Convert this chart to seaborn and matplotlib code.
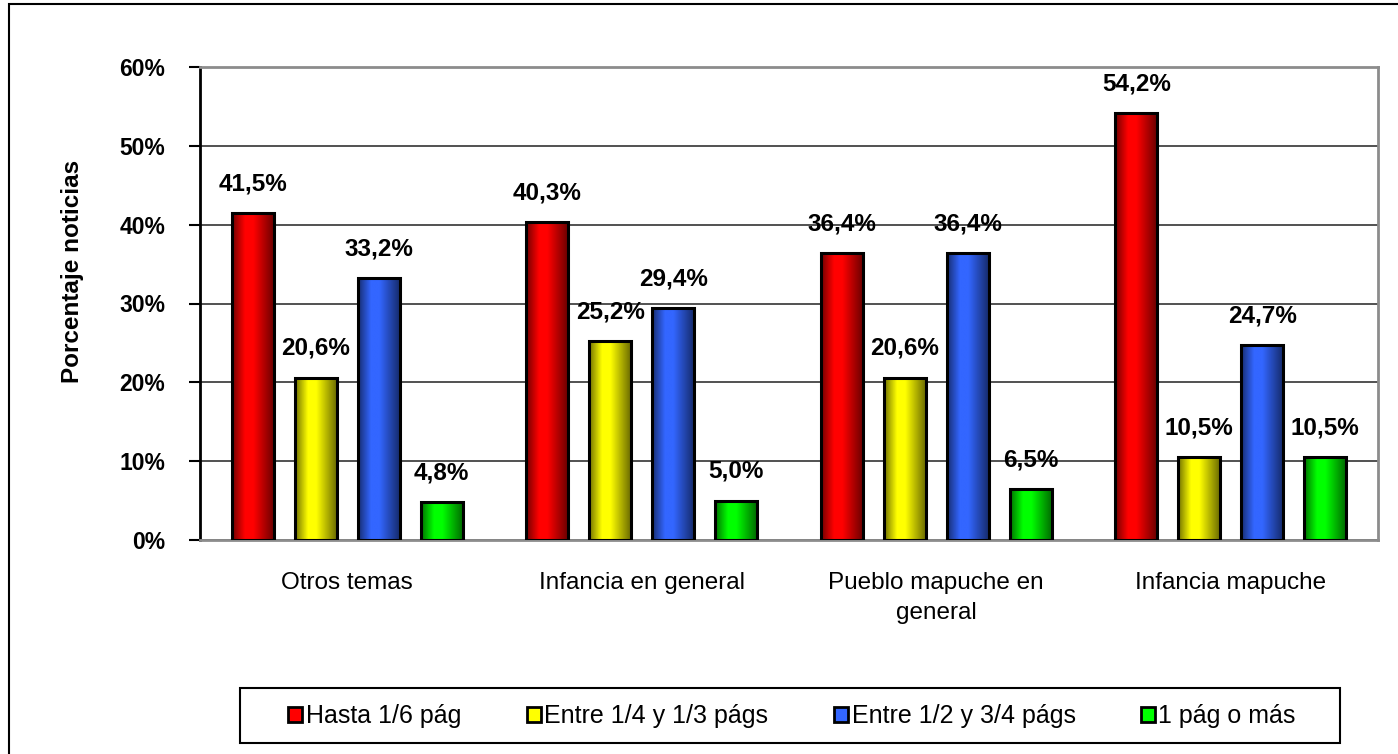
import numpy as np
import pandas as pd
import matplotlib
matplotlib.use("Agg")
import matplotlib.pyplot as plt
from matplotlib.patches import Patch, Rectangle
from matplotlib.ticker import FuncFormatter
import seaborn as sns

# Datos
temas = ["Otros temas", "Infancia en general", "Pueblo mapuche en\ngeneral", "Infancia mapuche"]
series = ["Hasta 1/6 pág", "Entre 1/4 y 1/3 págs", "Entre 1/2 y 3/4 págs", "1 pág o más"]
hasta_1_6 = [41.5, 40.3, 36.4, 54.2]
entre_1_4_1_3 = [20.6, 25.2, 20.6, 10.5]
entre_1_2_3_4 = [33.2, 29.4, 36.4, 24.7]
una_pag_o_mas = [4.8, 5.0, 6.5, 10.5]
colores = ["#ff0000", "#ffff00", "#3366ff", "#00ff00"]

df = pd.DataFrame({
    "Tema": temas * 4,
    "Tamaño": np.repeat(series, len(temas)),
    "Porcentaje": hasta_1_6 + entre_1_4_1_3 + entre_1_2_3_4 + una_pag_o_mas,
})

sns.set_style("white")
plt.rcParams["font.family"] = ["Liberation Sans", "DejaVu Sans"]
plt.rcParams["text.color"] = "black"
plt.rcParams["xtick.color"] = "black"
plt.rcParams["ytick.color"] = "black"

W, H = 1398, 754
fig = plt.figure(figsize=(W / 100, H / 100), dpi=100)
ax = fig.add_axes([200 / W, 1 - 540 / H, 1178 / W, 473 / H])

sns.barplot(data=df, x="Tema", y="Porcentaje", hue="Tamaño", order=temas,
            hue_order=series, palette=colores, saturation=1, width=0.856,
            edgecolor="black", linewidth=2.2, legend=False, ax=ax)

# perfil de degradado horizontal (estilo Excel)
xs = np.linspace(0, 1, 64)
brillo = np.interp(xs, [0, 0.3, 0.5, 1], [0.45, 1, 1, 0.4])

ancho = 0.143
for cont, color in zip(ax.containers, colores):
    base = np.array(matplotlib.colors.to_rgb(color))
    grad = (brillo[:, None] * base[None, :])[None, :, :]
    for bar in cont:
        cx = bar.get_x() + bar.get_width() / 2
        h = bar.get_height()
        bar.set_x(cx - ancho / 2)
        bar.set_width(ancho)
        bar.set_facecolor("none")
        bar.set_zorder(3)
        im = ax.imshow(grad, extent=[cx - ancho / 2, cx + ancho / 2, 0, h],
                       aspect="auto", zorder=2.5, interpolation="bilinear")
        im.set_clip_path(bar)
        etiqueta = f"{h:.1f}".replace(".", ",") + "%"
        ax.annotate(etiqueta, (cx, h), xytext=(0, 21), textcoords="offset points",
                    ha="center", va="center", fontsize=17.5, fontweight="bold")

ax.set_xlim(-0.5, 3.5)
ax.set_ylim(0, 60)
ax.set_yticks(range(0, 61, 10))
ax.yaxis.set_major_formatter(FuncFormatter(lambda v, p: f"{v:.0f}%"))
ax.yaxis.grid(True, color="#333333", lw=1.2)
ax.set_axisbelow(True)
ax.set_xlabel("")
ax.set_ylabel("")

ax.tick_params(axis="y", left=True, length=8, width=1.5, pad=17, labelsize=16.5, direction="out")
ax.tick_params(axis="x", length=0, pad=23, labelsize=17.5)
for lbl in ax.get_yticklabels():
    lbl.set_fontweight("bold")
for lbl in ax.get_xticklabels():
    lbl.set_linespacing(1.45)

ax.spines["left"].set_color("black")
ax.spines["left"].set_linewidth(2)
for s in ["top", "right", "bottom"]:
    ax.spines[s].set_color("#8c8c8c")
    ax.spines[s].set_linewidth(2)

fig.text(72 / W, 1 - 271 / H, "Porcentaje noticias", rotation=90, ha="center", va="center",
         fontsize=17.5, fontweight="bold")

handles = [Patch(facecolor=c, edgecolor="black", linewidth=2) for c in colores]
fig.legend(handles, series, loc="center", bbox_to_anchor=(792 / W, 1 - 716 / H),
           ncol=4, fontsize=18, frameon=False, borderpad=0, borderaxespad=0,
           handlelength=0.56, handleheight=0.56, handletextpad=0.16,
           columnspacing=2.6)

# recuadro de la leyenda
fig.add_artist(Rectangle((240 / W, 1 - 743 / H), (1340 - 240) / W, 55 / H,
                         transform=fig.transFigure, fill=False, edgecolor="black", lw=1.5))

# marco exterior
fig.add_artist(Rectangle((9 / W, -0.05), 1.2, 1 - 4 / H + 0.05, transform=fig.transFigure,
                         fill=False, edgecolor="black", lw=1.5))

fig.savefig("out.png", dpi=100)
